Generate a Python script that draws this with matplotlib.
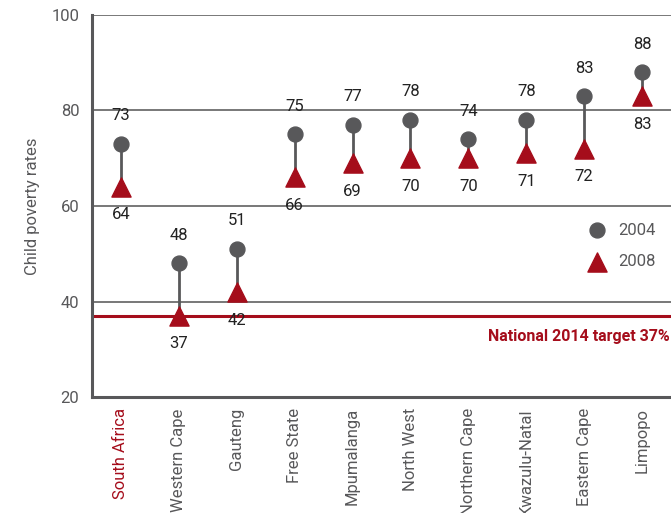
import matplotlib
matplotlib.use('Agg')
import matplotlib.pyplot as plt

plt.rcParams['font.family'] = ['Liberation Sans Narrow', 'Roboto', 'DejaVu Sans']

provinces = ['South Africa', 'Western Cape', 'Gauteng', 'Free State', 'Mpumalanga',
             'North West', 'Northern Cape', 'Kwazulu-Natal', 'Eastern Cape', 'Limpopo']
rate_2004 = [73, 48, 51, 75, 77, 78, 74, 78, 83, 88]
rate_2008 = [64, 37, 42, 66, 69, 70, 70, 71, 72, 83]
target = 37

grey = '#58585a'
red = '#a50d1b'

fig = plt.figure(figsize=(6.71, 5.13), dpi=100)
ax = fig.add_axes([0.137, 0.226, 0.863, 0.745])

x = list(range(len(provinces)))

# gridlines
for g in [40, 60, 80, 100]:
    ax.axhline(g, color='#6d6d6d', lw=1.3, zorder=1)

ax.axhline(target, color=red, lw=2.2, zorder=2)
ax.text(9.47, target - 4.3, 'National 2014 target 37%', color=red, fontweight='bold',
        fontsize=11.5, ha='right', va='center')

# stems
for i in x:
    ax.plot([i, i], [rate_2004[i], rate_2008[i]], color=grey, lw=2, zorder=3)

ax.scatter(x, rate_2004, s=115, color=grey, marker='o', zorder=4, label='2004')
ax.scatter(x, rate_2008, s=190, color=red, marker='^', zorder=5, label='2008')

for i in x:
    ax.text(i, rate_2004[i] + 4.3, str(rate_2004[i]), ha='center', va='bottom',
            fontsize=12, color='#222222')
    ax.text(i, rate_2008[i] - 4.3, str(rate_2008[i]), ha='center', va='top',
            fontsize=12, color='#222222')

ax.set_xlim(-0.5, 9.5)
ax.set_ylim(20, 100)
ax.set_yticks([20, 40, 60, 80, 100])
ax.set_xticks(x)
ax.set_xticklabels(provinces, rotation=90, fontsize=12, color=grey)
ax.get_xticklabels()[0].set_color(red)
ax.tick_params(axis='y', length=0, labelsize=12, labelcolor=grey, pad=9)
ax.tick_params(axis='x', length=0, pad=8)
ax.set_ylabel('Child poverty rates', fontsize=12, color=grey)
ax.yaxis.set_label_coords(-0.09, 0.5)

for s in ['top', 'right']:
    ax.spines[s].set_visible(False)
for s in ['left', 'bottom']:
    ax.spines[s].set_color('#58585a')
    ax.spines[s].set_linewidth(2.2)

leg = ax.legend(loc='center right', bbox_to_anchor=(1.0, 0.395), frameon=False,
                fontsize=12, handletextpad=0.3, labelspacing=1.0, scatterpoints=1)
for t in leg.get_texts():
    t.set_color(grey)

fig.savefig('out.png', dpi=100)
